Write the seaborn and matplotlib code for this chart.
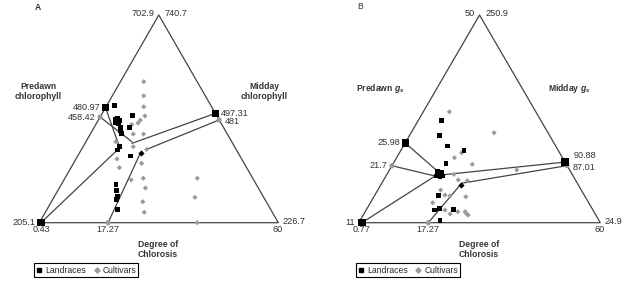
import matplotlib
matplotlib.use('Agg')
from matplotlib import pyplot as plt
from matplotlib.lines import Line2D
import seaborn as sns
import pandas as pd

sns.set_style('white')
plt.rcParams['font.family'] = ['Liberation Sans', 'DejaVu Sans']
plt.rcParams['mathtext.fontset'] = 'custom'
plt.rcParams['mathtext.it'] = 'Liberation Sans:italic:bold'
plt.rcParams['mathtext.rm'] = 'Liberation Sans:bold'

PANELS = ['A', 'B']

# edge scales: (value at the base end, value at the apex)
LEFT_RANGE = {'A': (205.1, 702.9), 'B': (11, 50)}
RIGHT_RANGE = {'A': (226.7, 740.7), 'B': (24.9, 250.9)}
BOTTOM_RANGE = (0, 60)
LEFT_NAME = {'A': 'Predawn\nchlorophyll', 'B': 'Predawn $g_s$'}
RIGHT_NAME = {'A': 'Midday\nchlorophyll', 'B': 'Midday $g_s$'}
BOTTOM_NAME = 'Degree of\nChlorosis'

# group values marked on each edge
LEFT_LAND = {'A': 480.97, 'B': 25.98}
LEFT_CULT = {'A': 458.42, 'B': 21.7}
RIGHT_LAND = {'A': 497.31, 'B': 90.88}
RIGHT_CULT = {'A': 481, 'B': 87.01}
BOTTOM_LAND = {'A': 0.43, 'B': 0.77}
BOTTOM_CULT = {'A': 17.27, 'B': 17.27}

# inner ends of the edge lines (fraction of base, fraction of height): left, right, bottom
JOIN_LAND = {'A': [(0.335, 0.366), (0.387, 0.382), (0.331, 0.355)],
             'B': [(0.336, 0.238), (0.343, 0.230), (0.323, 0.230)]}
JOIN_CULT = {'A': [(0.387, 0.390), (0.449, 0.353), (0.424, 0.338)],
             'B': [(0.329, 0.221), (0.426, 0.190), (0.426, 0.190)]}
NODE = {'A': (0.424, 0.338), 'B': (0.423, 0.182)}

# individual genotypes inside the triangle
land_a_x = [0.314, 0.317, 0.326, 0.338, 0.320, 0.331, 0.341, 0.341, 0.345, 0.377,
            0.335, 0.326, 0.380, 0.321, 0.324, 0.328, 0.324, 0.328, 0.391]
land_a_y = [0.563, 0.498, 0.503, 0.494, 0.483, 0.475, 0.459, 0.443, 0.430, 0.459,
            0.366, 0.350, 0.321, 0.182, 0.154, 0.125, 0.113, 0.065, 0.516]
cult_a_x = [0.437, 0.437, 0.437, 0.442, 0.423, 0.413, 0.387, 0.393, 0.436, 0.320,
            0.393, 0.449, 0.325, 0.428, 0.335, 0.384, 0.435, 0.444, 0.433, 0.439,
            0.661, 0.651, 0.661]
cult_a_y = [0.679, 0.611, 0.558, 0.514, 0.494, 0.480, 0.473, 0.427, 0.427, 0.390,
            0.366, 0.353, 0.307, 0.286, 0.265, 0.206, 0.214, 0.167, 0.101, 0.050,
            0.214, 0.122, 0.0]
land_b_x = [0.341, 0.333, 0.367, 0.436, 0.361, 0.327, 0.341, 0.323, 0.336, 0.348,
            0.329, 0.333, 0.312, 0.391, 0.336]
land_b_y = [0.494, 0.419, 0.369, 0.347, 0.286, 0.246, 0.241, 0.225, 0.221, 0.225,
            0.129, 0.069, 0.061, 0.065, 0.010]
cult_b_x = [0.375, 0.560, 0.426, 0.396, 0.470, 0.394, 0.412, 0.449, 0.339, 0.357,
            0.378, 0.443, 0.306, 0.378, 0.410, 0.440, 0.447, 0.453, 0.357, 0.654]
cult_b_y = [0.534, 0.433, 0.337, 0.313, 0.281, 0.233, 0.206, 0.202, 0.157, 0.133,
            0.129, 0.125, 0.096, 0.042, 0.053, 0.053, 0.042, 0.037, 0.061, 0.254]

POINTS = {'A': (land_a_x, land_a_y, cult_a_x, cult_a_y),
          'B': (land_b_x, land_b_y, cult_b_x, cult_b_y)}

LINE = '#444444'
GREY = '#9a9a9a'
FS = 6.6


def frac(v, rng):
    return (v - rng[0]) / (rng[1] - rng[0])


def left_pt(v, p):
    t = frac(v, LEFT_RANGE[p])
    return 0.5 * t, t


def right_pt(v, p):
    t = frac(v, RIGHT_RANGE[p])
    return 1 - 0.5 * t, t


def bottom_pt(v):
    return frac(v, BOTTOM_RANGE), 0.0


fig = plt.figure(figsize=(6.24, 2.81), dpi=100)
rects = {'A': [0.063, 0.2075, 0.383, 0.739], 'B': [0.575, 0.2075, 0.387, 0.739]}

for p in PANELS:
    ax = fig.add_axes(rects[p])
    ax.set_xlim(0, 1)
    ax.set_ylim(0, 1)
    ax.axis('off')

    ax.plot([0, 1, 0.5, 0], [0, 0, 1, 0], color=LINE, lw=0.9, clip_on=False)

    edges_land = [left_pt(LEFT_LAND[p], p), right_pt(RIGHT_LAND[p], p), bottom_pt(BOTTOM_LAND[p])]
    edges_cult = [left_pt(LEFT_CULT[p], p), right_pt(RIGHT_CULT[p], p), bottom_pt(BOTTOM_CULT[p])]
    for edges, joins in [(edges_land, JOIN_LAND[p]), (edges_cult, JOIN_CULT[p])]:
        for (x0, y0), (x1, y1) in zip(edges, joins):
            ax.plot([x0, x1], [y0, y1], color=LINE, lw=0.9, clip_on=False)

    lx, ly, cx, cy = POINTS[p]
    df = pd.DataFrame({
        'x': cx + lx,
        'y': cy + ly,
        'group': ['Cultivars'] * len(cx) + ['Landraces'] * len(lx),
    })
    sns.scatterplot(data=df, x='x', y='y', hue='group', style='group',
                    markers={'Landraces': 's', 'Cultivars': 'D'},
                    palette={'Landraces': 'black', 'Cultivars': GREY},
                    size='group', sizes={'Landraces': 12, 'Cultivars': 7},
                    linewidth=0, legend=False, ax=ax, clip_on=False, zorder=3)

    ex = pd.DataFrame({
        'x': [e[0] for e in edges_cult + edges_land],
        'y': [e[1] for e in edges_cult + edges_land],
        'group': ['Cultivars'] * 3 + ['Landraces'] * 3,
    })
    sns.scatterplot(data=ex, x='x', y='y', hue='group', style='group',
                    markers={'Landraces': 's', 'Cultivars': 'o'},
                    palette={'Landraces': 'black', 'Cultivars': GREY},
                    size='group', sizes={'Landraces': 28, 'Cultivars': 14},
                    linewidth=0, legend=False, ax=ax, clip_on=False, zorder=4)
    ax.scatter([NODE[p][0]], [NODE[p][1]], marker='D', s=10, color='black',
               linewidth=0, zorder=5, clip_on=False)
    ax.set_xlabel('')
    ax.set_ylabel('')

    # edge value labels
    kw = dict(textcoords='offset points', fontsize=FS, color='#333333', annotation_clip=False)
    ax.annotate(f'{LEFT_LAND[p]:g}', edges_land[0], xytext=(-3.5, 0), ha='right', va='center', **kw)
    ax.annotate(f'{LEFT_CULT[p]:g}', edges_cult[0], xytext=(-3.5, 0), ha='right', va='center', **kw)
    off_r = (4, 0) if p == 'A' else (6, 5)
    ax.annotate(f'{RIGHT_LAND[p]:g}', edges_land[1], xytext=off_r, ha='left', va='center', **kw)
    ax.annotate(f'{RIGHT_CULT[p]:g}', edges_cult[1], xytext=(4, -1), ha='left', va='center', **kw)
    ax.annotate(f'{BOTTOM_LAND[p]:g}', edges_land[2], xytext=(0, -2), ha='center', va='top', **kw)
    ax.annotate(f'{BOTTOM_CULT[p]:g}', edges_cult[2], xytext=(0, -2), ha='center', va='top', **kw)

    # range ends at the corners
    ax.annotate(f'{LEFT_RANGE[p][0]:g}', (0, 0), xytext=(-3, 0), ha='right', va='center', **kw)
    ax.annotate(f'{LEFT_RANGE[p][1]:g}', (0.5, 1), xytext=(-3, 1), ha='right', va='center', **kw)
    ax.annotate(f'{RIGHT_RANGE[p][1]:g}', (0.5, 1), xytext=(4, 1), ha='left', va='center', **kw)
    ax.annotate(f'{RIGHT_RANGE[p][0]:g}', (1, 0), xytext=(3, 1), ha='left', va='center', **kw)
    ax.annotate(f'{BOTTOM_RANGE[1]:g}', (1, 0), xytext=(3, -2), ha='right', va='top', **kw)

    # edge names and panel letter
    tkw = dict(fontsize=6.2, fontweight='bold', color='#333333', ha='center', va='center',
               linespacing=1.25, clip_on=False)
    if p == 'A':
        ax.text(-0.005, 0.632, LEFT_NAME[p], **tkw)
        ax.text(0.940, 0.632, RIGHT_NAME[p], **tkw)
        ax.text(-0.005, 1.034, 'A', **tkw)
    else:
        ax.text(0.088, 0.644, LEFT_NAME[p], **tkw)
        ax.text(0.870, 0.644, RIGHT_NAME[p], **tkw)
        ax.text(0.005, 1.039, 'B', fontsize=6.2, color='#333333', ha='center', va='center')
    ax.text(0.497, -0.129, BOTTOM_NAME, **tkw)

    handles = [Line2D([], [], marker='s', color='black', ls='', markersize=3.4),
               Line2D([], [], marker='D', color=GREY, ls='', markersize=2.6)]
    anchor = (0.138, 0.039) if p == 'A' else (0.654, 0.039)
    leg = fig.legend(handles, ['Landraces', 'Cultivars'], loc='center', bbox_to_anchor=anchor,
                     ncol=2, frameon=True, fancybox=False, edgecolor='black', fontsize=6.2,
                     handlelength=0.8, handletextpad=0.3, columnspacing=0.8, borderpad=0.25,
                     framealpha=1)
    leg.get_frame().set_linewidth(0.8)

fig.savefig('out.png', dpi=100)
